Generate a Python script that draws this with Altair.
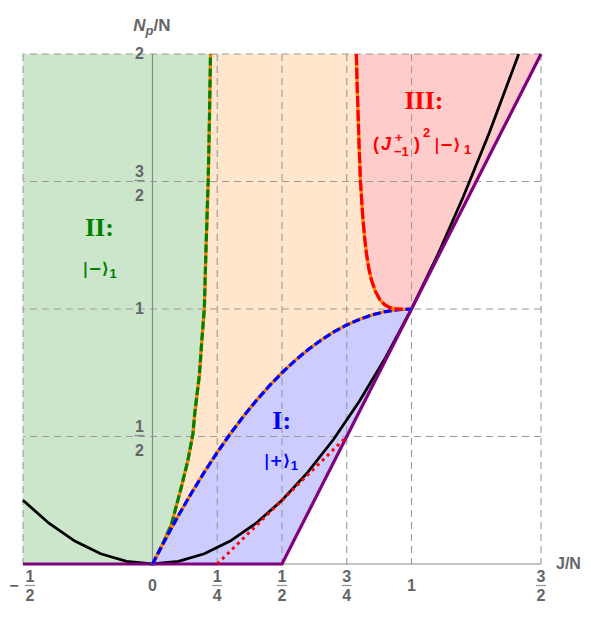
import altair as alt
import pandas as pd

# ---------------- data ----------------
GRID_X = [-0.5, 0.25, 0.5, 0.75, 1.0, 1.5]
GRID_Y = [0.5, 1.0, 1.5, 2.0]
TOP = 2.0

# black curve
PARAB_X = [-0.5, -0.4, -0.3, -0.2, -0.1, 0.0, 0.1, 0.2, 0.3, 0.4, 0.5, 0.6, 0.7,
           0.8, 0.9, 1.0, 1.1, 1.2, 1.3, 1.414]
PARAB_Y = [0.25, 0.16, 0.09, 0.04, 0.01, 0.0, 0.01, 0.04, 0.09, 0.16, 0.25, 0.36,
           0.49, 0.64, 0.81, 1.0, 1.21, 1.44, 1.69, 2.0]

# blue (region I upper boundary)
BLUE_X = [0.0, 0.05, 0.1, 0.15, 0.2, 0.25, 0.3, 0.35, 0.4, 0.45, 0.5, 0.55, 0.6,
          0.65, 0.7, 0.75, 0.8, 0.85, 0.9, 0.95, 1.0]
BLUE_Y = [0.0, 0.0975, 0.19, 0.2775, 0.36, 0.4375, 0.51, 0.5775, 0.64, 0.6975,
          0.75, 0.7975, 0.84, 0.8775, 0.91, 0.9375, 0.96, 0.9775, 0.99, 0.9975, 1.0]
# purple boundary read at the same x
BLUE_LO = [0.0, 0.0, 0.0, 0.0, 0.0, 0.0, 0.0, 0.0, 0.0, 0.0, 0.0, 0.1, 0.2, 0.3,
           0.4, 0.5, 0.6, 0.7, 0.8, 0.9, 1.0]

# green (region II boundary)
GREEN_X = [0.0, 0.035, 0.073, 0.111, 0.137, 0.156, 0.163, 0.181, 0.19, 0.2,
           0.207, 0.215, 0.22, 0.224]
GREEN_Y = [0.0, 0.07, 0.155, 0.3, 0.408, 0.51, 0.589, 0.741, 0.87, 1.0, 1.25,
           1.5, 1.75, 2.0]

# red (region III boundary)
RED_X = [0.787, 0.79, 0.794, 0.798, 0.803, 0.808, 0.813, 0.819, 0.826, 0.835,
         0.845, 0.86, 0.877, 0.895, 0.915, 0.94, 0.965]
RED_Y = [2.0, 1.88, 1.759, 1.63, 1.5, 1.42, 1.347, 1.28, 1.218, 1.16, 1.115,
         1.07, 1.038, 1.018, 1.006, 1.001, 1.0]

# purple line and red dotted line
PURPLE_X = [-0.5, 0.5, 1.0, 1.5]
PURPLE_Y = [0.0, 0.0, 1.0, 2.0]
DOT_X = [0.25, 0.75]
DOT_Y = [0.0, 0.5]

# tick labels
XT_VAL = [0.25, 0.5, 0.75, 1.5]
XT_NUM = ["1", "1", "3", "3"]
XT_DEN = ["4", "2", "4", "2"]
XS_VAL = [0.0, 1.0]
XS_TXT = ["0", "1"]
XNEG_VAL = [-0.5]
XNEG_NUM = ["1"]
XNEG_DEN = ["2"]
YT_VAL = [0.5, 1.5]
YT_NUM = ["1", "3"]
YT_DEN = ["2", "2"]
YS_VAL = [1.0, 2.0]
YS_TXT = ["1", "2"]

# ---------------- colours ----------------
C_GREEN, C_ORANGE, C_RED, C_BLUE, C_PURPLE = "#008000", "#ff8000", "#ff0000", "#0000ff", "#800080"
F_GREEN, F_ORANGE, F_RED, F_BLUE = "#cce6cc", "#ffe6cc", "#ffcccc", "#ccccff"
GRAY = "#666666"

xs = alt.Scale(domain=[-0.5, 1.5], nice=False, zero=False)
ys = alt.Scale(domain=[0, 2], nice=False, zero=False)
X = alt.X("x:Q", scale=xs, axis=None)
Y = alt.Y("y:Q", scale=ys, axis=None)


def df(**cols):
    return pd.DataFrame(cols)


def area(x, lo, hi, color):
    return alt.Chart(df(x=x, y=lo, y2=hi)).mark_area(color=color, opacity=1).encode(
        x=X, y=Y, y2="y2:Q")


def line(x, y, **kw):
    d = df(x=x, y=y, o=list(range(len(x))))
    return alt.Chart(d).mark_line(**kw).encode(x=X, y=Y, order="o:Q")


def text(x, y, t, **kw):
    return alt.Chart(df(x=x, y=y, t=t)).mark_text(**kw).encode(x=X, y=Y, text="t:N")


layers = []
# fills
layers.append(area(BLUE_X, BLUE_Y, [TOP] * len(BLUE_X), F_ORANGE))
layers.append(area([-0.5] + GREEN_X, [0.0] + GREEN_Y, [TOP] * (len(GREEN_X) + 1), F_GREEN))
layers.append(area(RED_X + [1.0, 1.5], RED_Y + [1.0, 2.0], [TOP] * (len(RED_X) + 2), F_RED))
layers.append(area(BLUE_X, BLUE_LO, BLUE_Y, F_BLUE))

# grid
layers.append(alt.Chart(df(x=GRID_X)).mark_rule(color="#9a9a9a", strokeWidth=1.1, strokeDash=[7, 5]).encode(x=X))
layers.append(alt.Chart(df(y=GRID_Y)).mark_rule(color="#9a9a9a", strokeWidth=1.1, strokeDash=[7, 5]).encode(y=Y))
# axes lines
layers.append(alt.Chart(df(y=[0.0])).mark_rule(color="#888888", strokeWidth=1.2).encode(y=Y))
layers.append(alt.Chart(df(x=[0.0])).mark_rule(color="#888888", strokeWidth=1.2).encode(x=X))

# curves
layers.append(line(PARAB_X, PARAB_Y, color="black", strokeWidth=2.8))
layers.append(line(PURPLE_X, PURPLE_Y, color=C_PURPLE, strokeWidth=3.2))
layers.append(line(DOT_X, DOT_Y, color=C_RED, strokeWidth=3, strokeDash=[3, 4]))
for cx, cy, col, dash in [(GREEN_X, GREEN_Y, C_GREEN, [8, 3]),
                          (BLUE_X, BLUE_Y, C_BLUE, [8, 3]),
                          (RED_X, RED_Y, C_RED, [11, 3])]:
    layers.append(line(cx, cy, color=C_ORANGE, strokeWidth=3.2))
    layers.append(line(cx, cy, color=col, strokeWidth=3.2, strokeDash=dash))

# tick labels
lab = dict(font="Liberation Sans", fontSize=16, fontWeight="bold", color=GRAY, align="center", baseline="middle")
zeros = lambda v: [0.0] * len(v)
layers.append(text(XT_VAL, zeros(XT_VAL), XT_NUM, dy=13, **lab))
layers.append(text(XT_VAL, zeros(XT_VAL), XT_DEN, dy=32, **lab))
layers.append(alt.Chart(df(x=XT_VAL, y=zeros(XT_VAL))).mark_tick(
    orient="horizontal", size=10, thickness=1.2, color=GRAY, yOffset=21.5).encode(x=X, y=Y))
layers.append(text(XS_VAL, zeros(XS_VAL), XS_TXT, dy=22, **lab))
layers.append(text(XNEG_VAL, zeros(XNEG_VAL), XNEG_NUM, dx=7, dy=13, **lab))
layers.append(text(XNEG_VAL, zeros(XNEG_VAL), XNEG_DEN, dx=7, dy=32, **lab))
layers.append(text(XNEG_VAL, zeros(XNEG_VAL), ["\u2212"], dx=-9, dy=22, **lab))
layers.append(alt.Chart(df(x=XNEG_VAL, y=zeros(XNEG_VAL))).mark_tick(
    orient="horizontal", size=10, thickness=1.2, color=GRAY, xOffset=7, yOffset=21.5).encode(x=X, y=Y))

layers.append(text(zeros(YT_VAL), YT_VAL, YT_NUM, dx=-13, dy=-10, **lab))
layers.append(text(zeros(YT_VAL), YT_VAL, YT_DEN, dx=-13, dy=14, **lab))
layers.append(alt.Chart(df(x=zeros(YT_VAL), y=YT_VAL)).mark_tick(
    orient="horizontal", size=10, thickness=1.2, color=GRAY, xOffset=-13, yOffset=-1).encode(x=X, y=Y))
layers.append(text(zeros(YS_VAL), YS_VAL, YS_TXT, dx=-13, dy=0, **lab))

# axis titles
layers.append(text([1.5], [0.0], ["J/N"], dx=15, dy=0, **{**lab, "align": "left", "fontSize": 16}))
ttl = dict(font="Liberation Sans", fontWeight="bold", color=GRAY, baseline="middle")
layers.append(text([0.0], [2.0], ["N"], dx=-7, dy=-28, align="right", fontSize=17, fontStyle="italic", **ttl))
layers.append(text([0.0], [2.0], ["p"], dx=-7, dy=-23, align="left", fontSize=13, fontStyle="italic", **ttl))
layers.append(text([0.0], [2.0], ["/N"], dx=1, dy=-28, align="left", fontSize=17, **ttl))

# region labels
roman = dict(font="Liberation Serif", fontWeight="bold", fontSize=26, align="center", baseline="middle")
state = dict(font="DejaVu Sans", fontSize=16, fontWeight="bold", align="left", baseline="middle")
paren = dict(font="Liberation Sans", fontSize=18, fontWeight="bold", align="left", baseline="middle")
sub = dict(font="Liberation Sans", fontSize=13, fontWeight="bold", align="left", baseline="middle")

layers.append(text([-0.205], [1.317], ["II:"], color=C_GREEN, **roman))
layers.append(text([-0.205], [1.158], ["|\u2212\u27e9"], color=C_GREEN, dx=-17, **state))
layers.append(text([-0.205], [1.158], ["1"], color=C_GREEN, dx=10, dy=5, **sub))

layers.append(text([0.499], [0.559], ["I:"], color=C_BLUE, **roman))
layers.append(text([0.495], [0.402], ["|+\u27e9"], color=C_BLUE, dx=-17, **state))
layers.append(text([0.495], [0.402], ["1"], color=C_BLUE, dx=10, dy=5, **sub))

layers.append(text([1.048], [1.814], ["III:"], color=C_RED, **roman))
ex, ey = [1.044], [1.642]
layers.append(text(ex, ey, ["("], color=C_RED, dx=-50, **paren))
layers.append(text(ex, ey, ["J"], color=C_RED, dx=-42, fontStyle="italic", **paren))
layers.append(text(ex, ey, ["+"], color=C_RED, dx=-28, dy=-7, **sub))
layers.append(text(ex, ey, ["\u22121"], color=C_RED, dx=-29, dy=7, **sub))
layers.append(text(ex, ey, [")"], color=C_RED, dx=-9, **paren))
layers.append(text(ex, ey, ["2"], color=C_RED, dx=0, dy=-12, **sub))
layers.append(text(ex, ey, ["|\u2212\u27e9"], color=C_RED, dx=11, **state))
layers.append(text(ex, ey, ["1"], color=C_RED, dx=41, dy=5, **sub))

chart = alt.layer(*layers).properties(
    width=518, height=510,
    autosize=alt.AutoSizeParams(type="none"),
    padding={"left": 15, "top": 46, "right": 42, "bottom": 39},
).configure_view(strokeWidth=0)

chart.save("out.html", embed_options={"renderer": "svg", "actions": False})
